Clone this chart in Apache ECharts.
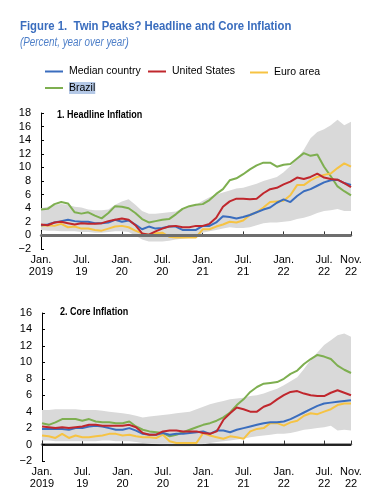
<!DOCTYPE html>
<html><head><meta charset="utf-8">
<script src="https://cdn.jsdelivr.net/npm/echarts@6/dist/echarts.min.js"></script>
<style>html,body{margin:0;padding:0;background:#fff}#c{width:384px;height:503px}</style>
</head><body><div id="c"></div>
<script>
// ---- Data (Jan 2019 .. Nov 2022, monthly) ----
const tickIdx = [0, 6, 12, 18, 24, 30, 36, 42, 46];
const tickLabels = ['Jan.\n2019', 'Jul.\n19', 'Jan.\n20', 'Jul.\n20', 'Jan.\n21', 'Jul.\n21', 'Jan.\n22', 'Jul.\n22', 'Nov.\n22'];

// Panel 1: Headline inflation
const headMedian = [1.5,1.6,1.9,2.1,2.3,2.1,2.0,2.0,1.8,1.8,1.9,2.3,2.0,2.2,1.6,0.9,1.3,1.0,1.1,1.3,1.3,0.8,0.8,0.8,1.4,1.4,1.9,2.8,2.7,2.5,2.7,3.0,3.4,3.8,4.1,4.8,5.3,4.9,5.8,6.5,6.8,7.3,7.8,8.1,8.2,7.7,7.4];
const headUS = [1.6,1.5,1.9,2.0,1.8,1.6,1.8,1.7,1.7,1.8,2.1,2.3,2.5,2.3,1.5,0.3,0.1,0.6,1.0,1.3,1.4,1.2,1.2,1.4,1.4,1.7,2.6,4.2,5.0,5.4,5.4,5.3,5.4,6.2,6.8,7.0,7.5,7.9,8.5,8.3,8.6,9.1,8.5,8.3,8.2,7.7,7.1];
const headEuro = [1.4,1.5,1.4,1.7,1.2,1.3,1.0,1.0,0.8,0.7,1.0,1.3,1.4,1.2,0.7,0.3,0.1,0.3,0.4,-0.2,-0.3,-0.3,-0.3,-0.3,0.9,0.9,1.3,1.6,2.0,1.9,2.2,3.0,3.4,4.1,4.9,5.0,5.1,5.9,7.4,7.4,8.1,8.6,8.9,9.1,9.9,10.6,10.1];
const headBrazil = [3.8,3.9,4.6,4.9,4.7,3.4,3.2,3.4,2.9,2.5,3.3,4.3,4.2,4.0,3.3,2.4,1.9,2.1,2.3,2.4,3.1,3.9,4.3,4.5,4.6,5.2,6.1,6.8,8.1,8.4,9.0,9.7,10.3,10.7,10.7,10.1,10.4,10.5,11.3,12.1,11.7,11.9,10.1,8.7,7.2,6.5,5.9];
const headLow = [0.8,0.7,0.7,0.6,0.6,0.6,0.5,0.5,0.4,0.4,0.5,0.6,0.6,0.5,0.0,-0.6,-0.9,-0.9,-0.9,-0.8,-0.6,-0.5,-0.4,-0.3,0.4,0.6,0.8,1.0,1.2,1.1,1.1,1.2,1.5,1.8,1.9,1.9,2.0,2.1,2.4,2.6,2.9,3.3,3.6,3.7,3.9,3.6,3.6];
const headHigh = [4.0,4.2,4.5,4.6,4.5,4.2,4.1,3.8,3.7,3.7,3.8,4.5,5.0,5.3,4.5,3.6,3.2,3.2,3.3,3.4,3.5,4.0,4.2,4.5,5.1,5.6,6.0,6.3,6.6,6.9,7.0,7.3,7.6,8.0,8.3,8.6,9.3,10.2,11.3,12.6,14.3,15.2,15.6,16.2,17.0,16.2,16.7];

// Panel 2: Core inflation
const coreMedian = [1.9,1.9,1.9,1.9,1.8,2.0,2.0,2.2,2.3,2.2,2.0,1.8,1.8,2.0,1.7,1.3,1.2,1.2,1.4,1.2,1.3,1.3,1.4,1.5,1.6,1.3,1.7,1.7,1.5,1.8,2.0,2.2,2.4,2.6,2.7,2.7,2.8,3.1,3.5,3.9,4.3,4.7,5.0,5.1,5.2,5.3,5.4];
const coreUS = [2.2,2.1,2.0,2.1,2.0,2.1,2.2,2.4,2.4,2.3,2.3,2.3,2.3,2.4,2.1,1.4,1.2,1.2,1.6,1.7,1.7,1.6,1.6,1.6,1.4,1.3,1.6,3.0,3.8,4.5,4.3,4.0,4.0,4.6,4.9,5.5,6.0,6.4,6.5,6.2,6.0,5.9,5.9,6.3,6.6,6.3,6.0];
const coreEuro = [1.1,1.0,0.8,1.3,0.8,1.1,0.9,0.9,1.0,1.1,1.3,1.3,1.1,1.2,1.0,0.9,0.9,0.8,1.2,0.4,0.2,0.2,0.2,0.2,1.4,1.1,0.9,0.7,1.0,0.9,0.7,1.6,1.9,2.0,2.6,2.6,2.3,2.7,2.9,3.5,3.8,3.7,4.0,4.3,4.8,5.0,5.0];
const coreBrazil = [2.6,2.4,2.7,3.1,3.1,3.1,2.9,3.1,2.8,2.7,2.7,2.6,2.6,2.8,2.2,1.8,1.6,1.5,1.4,1.0,1.2,1.5,1.8,2.1,2.4,2.6,2.9,3.3,3.9,4.8,5.5,6.4,7.0,7.4,7.5,7.6,8.0,8.6,9.0,9.8,10.4,10.9,10.7,10.4,9.6,9.1,8.7];
const coreLow = [0.5,0.5,0.4,0.4,0.4,0.4,0.4,0.4,0.4,0.5,0.5,0.4,0.4,0.4,0.3,0.2,0.1,0.0,-0.1,-0.2,-0.2,-0.2,-0.2,-0.1,0.0,0.2,0.3,0.4,0.5,0.6,0.7,0.9,1.0,1.1,1.2,1.3,1.3,1.4,1.6,1.8,1.9,2.0,2.1,2.3,1.7,1.8,1.7];
const coreHigh = [4.2,4.2,4.3,4.3,4.3,4.3,4.2,4.2,4.2,4.1,4.0,3.9,3.8,3.7,3.5,3.3,3.4,3.5,3.6,3.7,3.8,3.9,4.0,4.3,4.6,4.9,5.1,5.3,5.5,5.6,5.7,5.9,6.0,6.2,6.5,6.8,7.2,7.7,8.2,9.2,10.3,11.2,12.1,12.7,13.3,13.5,13.1];

const seriesNames = ['Median country', 'United States', 'Euro area', 'Brazil'];
const seriesColors = ['#3A6DBE', '#C0272D', '#F6C343', '#7EAF50'];

// ---- Build chart ----
const months = [];
for (let y = 2019; y <= 2022; y++) for (let m = 1; m <= 12; m++) { if (y === 2022 && m > 11) break; months.push(y + '-' + m); }

const FONT = '"Liberation Sans", Arial, sans-serif';
const chart = echarts.init(document.getElementById('c'), null, {renderer: 'canvas'});

function xAxis(gi) {
  return {
    type: 'category', gridIndex: gi, data: months, boundaryGap: false,
    axisLine: {lineStyle: {color: '#808080', width: 2.5}},
    axisTick: {inside: true, length: 4, lineStyle: {color: '#333', width: 1}, interval: (i) => tickIdx.includes(i)},
    axisLabel: {interval: (i) => tickIdx.includes(i), formatter: (v, i) => tickLabels[tickIdx.indexOf(i)] || '',
      color: '#000', fontFamily: FONT, fontSize: 11, lineHeight: 12, margin: 5},
    splitLine: {show: false}
  };
}
function yAxis(gi, max) {
  return {
    type: 'value', gridIndex: gi, min: -2, max: max, interval: 2,
    axisLine: {show: true, lineStyle: {color: '#000', width: 1}},
    axisTick: {show: true, inside: true, length: 3, lineStyle: {color: '#000'}},
    axisLabel: {color: '#000', fontFamily: FONT, fontSize: 11, margin: 10,
      formatter: (v) => v < 0 ? '\u2212' + Math.abs(v) : String(v)},
    splitLine: {show: false}
  };
}
function bandSeries(gi, lo, hi, zeroStyle) {
  return [
    {type: 'line', name: 'lo' + gi, xAxisIndex: gi, yAxisIndex: gi, data: lo, stack: 'band' + gi, stackStrategy: 'all',
      symbol: 'none', lineStyle: {opacity: 0}, silent: true, z: 1},
    {type: 'line', name: 'hi' + gi, xAxisIndex: gi, yAxisIndex: gi, data: hi.map((v, i) => +(v - lo[i]).toFixed(2)), stack: 'band' + gi, stackStrategy: 'all',
      symbol: 'none', lineStyle: {opacity: 0}, areaStyle: {color: '#D9D9D9', opacity: 1}, silent: true, z: 1,
      markLine: {silent: true, symbol: 'none', label: {show: false}, data: [{yAxis: 0}], lineStyle: zeroStyle, animation: false}}
  ];
}
function lineSeries(gi, arrs) {
  const order = [3, 2, 0, 1];
  return order.map((k) => ({
    type: 'line', name: seriesNames[k], xAxisIndex: gi, yAxisIndex: gi, data: arrs[k],
    symbol: 'none', lineStyle: {color: seriesColors[k], width: 2}, itemStyle: {color: seriesColors[k]}, z: 3
  }));
}
function legend(name, left, top, fmt) {
  return {data: [name], left: left, top: top, icon: 'rect', itemWidth: 18, itemHeight: 2, itemGap: 0, padding: 0,
    textStyle: {fontFamily: FONT, fontSize: 10.5, color: '#000', padding: [0, 0, 0, 1],
      rich: {hl: {backgroundColor: '#B4C8E6', fontFamily: FONT, fontSize: 10.5, color: '#000', padding: [1, 0, 0, 0]}}},
    formatter: fmt || '{name}', selectedMode: false};
}
function txt(s, x, y, font, fill, sx) {
  return {type: 'text', x: x, y: y, scaleX: sx, silent: true,
    style: {text: s, font: font, fill: fill, verticalAlign: 'middle', align: 'left'}};
}

chart.setOption({
  animation: false,
  backgroundColor: '#fff',
  graphic: [
    txt('Figure 1.  Twin Peaks? Headline and Core Inflation', 20, 26, 'bold 13.5px ' + FONT, '#3A6DBE', 0.84),
    txt('(Percent, year over year)', 20, 43, 'italic 12px ' + FONT, '#4E7FC8', 0.82),
    txt('1. Headline Inflation', 57, 115, 'bold 11px ' + FONT, '#000', 0.82),
    txt('2. Core Inflation', 60, 312, 'bold 11px ' + FONT, '#000', 0.82)
  ],
  legend: [
    legend('Median country', 45, 66),
    legend('United States', 148, 66),
    legend('Euro area', 250, 67),
    legend('Brazil', 45, 82, () => '{hl|Brazil}')
  ],
  grid: [
    {left: 41, right: 33, top: 113, height: 136},
    {left: 42, right: 33, top: 313, height: 148}
  ],
  xAxis: [xAxis(0), xAxis(1)],
  yAxis: [yAxis(0, 18), yAxis(1, 16)],
  series: [].concat(
    bandSeries(0, headLow, headHigh, {color: '#6E6E6E', width: 3, type: 'solid'}),
    lineSeries(0, [headMedian, headUS, headEuro, headBrazil]),
    bandSeries(1, coreLow, coreHigh, {color: '#000', width: 1.5, type: 'solid'}),
    lineSeries(1, [coreMedian, coreUS, coreEuro, coreBrazil])
  )
});
</script></body></html>
